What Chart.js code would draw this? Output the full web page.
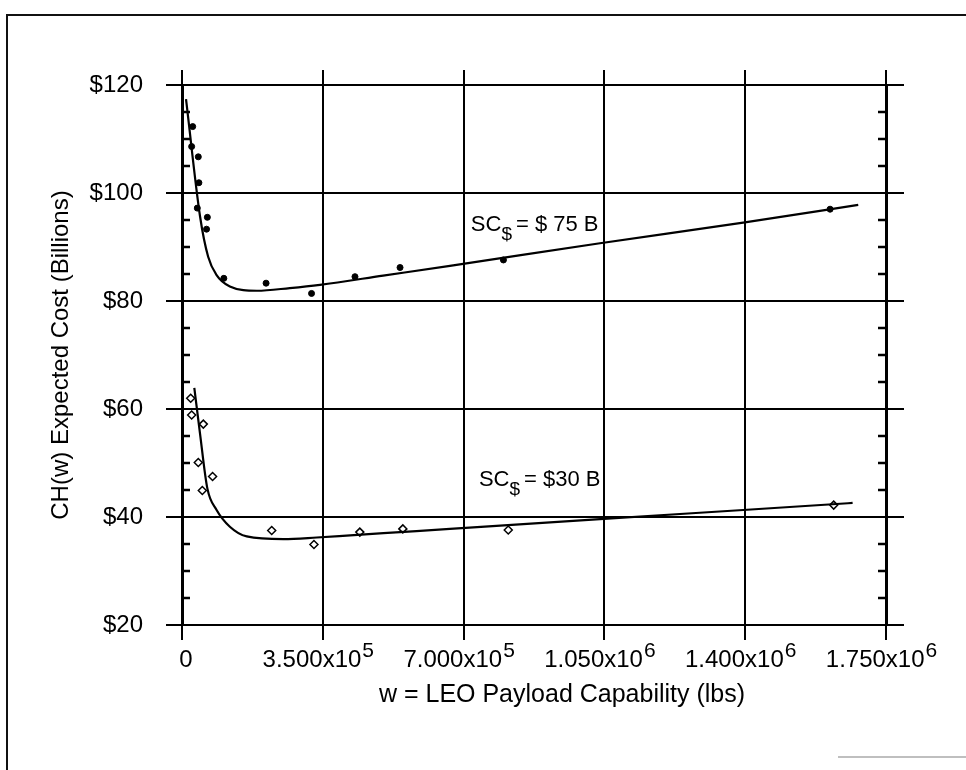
<!DOCTYPE html>
<html>
<head>
<meta charset="utf-8">
<script src="https://cdn.jsdelivr.net/npm/chart.js@4.4.1/dist/chart.umd.min.js"></script>
<style>
  html, body { margin: 0; padding: 0; background: #fff; }
  canvas { display: block; }
</style>
</head>
<body>
<canvas id="chart" width="966" height="770"></canvas>
<script>
// Axis ranges / ticks
const wMin = 0, wMax = 1.75e6, wStep = 3.5e5;
const costMin = 20, costMax = 120, costStep = 20, costMinorStep = 5;

// SC$ = $75 B : smooth curve and computed points
const curve75W = [10e3, 45e3, 65e3, 86e3, 119e3, 186e3, 268e3, 343e3, 500e3, 666e3, 1039e3, 1395e3, 1681e3];
const curve75Cost = [117.4, 95.6, 88.2, 84.8, 82.7, 81.9, 82.4, 83.0, 84.7, 86.5, 90.7, 94.5, 97.8];
const points75W = [24e3, 26.6e3, 38e3, 40.5e3, 42e3, 61e3, 63e3, 104e3, 209e3, 322e3, 430e3, 542e3, 799e3, 1611e3];
const points75Cost = [108.6, 112.3, 97.2, 106.7, 101.9, 93.3, 95.5, 84.2, 83.3, 81.4, 84.5, 86.2, 87.6, 97.0];

// SC$ = $30 B
const curve30W = [30.6e3, 44.7e3, 63e3, 86e3, 119e3, 161e3, 252e3, 335e3, 418e3, 542e3, 666e3, 1039e3, 1395e3, 1667e3];
const curve30Cost = [63.9, 55.5, 45.3, 41.3, 38.2, 36.4, 35.9, 36.2, 36.6, 37.2, 37.8, 39.6, 41.3, 42.6];
const points30W = [21.6e3, 24e3, 40.5e3, 50.5e3, 53e3, 76e3, 223e3, 328e3, 442e3, 549e3, 811e3, 1620e3];
const points30Cost = [62.0, 58.9, 50.1, 44.9, 57.2, 47.5, 37.5, 34.9, 37.2, 37.8, 37.6, 42.2];

// Curve labels "SC$ = ..." (anchored in data units)
const curveLabels = [
  { text: "= $ 75 B", w: 718e3, cost: 93.0 },
  { text: "= $30 B", w: 738e3, cost: 45.7 },
];

const FONT = "'Liberation Sans', Arial, Helvetica, sans-serif";
Chart.defaults.font.family = FONT;
Chart.defaults.color = "#000";

const zip = (xs, ys) => xs.map((v, i) => ({ x: v, y: ys[i] }));

// Frame, minor ticks, x tick labels with exponents, annotations
const overlay = {
  id: "overlay",
  beforeDraw(chart) {
    const ctx = chart.ctx;
    ctx.save();
    ctx.fillStyle = "#fff";
    ctx.fillRect(0, 0, chart.width, chart.height);
    ctx.strokeStyle = "#111";
    ctx.lineWidth = 2;
    ctx.beginPath();
    ctx.moveTo(7, chart.height);
    ctx.lineTo(7, 15);
    ctx.lineTo(chart.width, 15);
    ctx.stroke();
    ctx.strokeStyle = "#aaa";
    ctx.lineWidth = 1.5;
    ctx.beginPath();
    ctx.moveTo(838, 757);
    ctx.lineTo(chart.width, 757);
    ctx.stroke();
    ctx.restore();
  },
  afterDraw(chart) {
    const { ctx, chartArea: a, scales: { x, y } } = chart;
    ctx.save();
    // minor ticks every $5, inside both value axes
    ctx.strokeStyle = "#000";
    ctx.lineWidth = 2.5;
    for (let v = costMin; v < costMax; v += costMinorStep) {
      if (v % costStep === 0) continue;
      const py = y.getPixelForValue(v);
      ctx.beginPath();
      ctx.moveTo(a.left, py);
      ctx.lineTo(a.left + 8, py);
      ctx.moveTo(a.right - 8, py);
      ctx.lineTo(a.right, py);
      ctx.stroke();
    }
    // x tick labels, e.g. 3.500x10^5
    ctx.fillStyle = "#000";
    ctx.textBaseline = "alphabetic";
    ctx.textAlign = "left";
    const base = a.bottom + 42;
    x.ticks.forEach((t) => {
      const px = x.getPixelForValue(t.value);
      ctx.font = "24px " + FONT;
      if (t.value === 0) {
        const w0 = ctx.measureText("0").width;
        ctx.fillText("0", px + 4 - w0 / 2, base);
        return;
      }
      const e = Math.floor(Math.log10(t.value));
      const mant = (t.value / Math.pow(10, e)).toFixed(3) + "x10";
      const wm = ctx.measureText(mant).width;
      ctx.font = "21px " + FONT;
      const we = ctx.measureText(String(e)).width;
      const x0 = px - 5 - (wm + we) / 2;
      ctx.font = "24px " + FONT;
      ctx.fillText(mant, x0, base);
      ctx.font = "21px " + FONT;
      ctx.fillText(String(e), x0 + wm + 1, base - 10);
    });
    // x axis title
    ctx.font = "25px " + FONT;
    ctx.textAlign = "center";
    ctx.fillText("w = LEO Payload Capability (lbs)", 562, 702);
    // curve labels SC$ = ...
    ctx.textAlign = "left";
    curveLabels.forEach((l) => {
      let px = x.getPixelForValue(l.w);
      const py = y.getPixelForValue(l.cost);
      ctx.font = "22px " + FONT;
      ctx.fillText("SC", px, py);
      px += ctx.measureText("SC").width;
      ctx.font = "19px " + FONT;
      ctx.fillText("$", px, py + 9);
      px += ctx.measureText("$").width + 4;
      ctx.font = "22px " + FONT;
      ctx.fillText(l.text, px, py);
    });
    ctx.restore();
  },
};

new Chart(document.getElementById("chart"), {
  type: "scatter",
  plugins: [overlay],
  data: {
    datasets: [
      {
        label: "SC$ = $75 B",
        data: zip(curve75W, curve75Cost),
        showLine: true,
        pointRadius: 0,
        borderColor: "#000",
        borderWidth: 2.2,
        cubicInterpolationMode: "monotone",
      },
      {
        label: "SC$ = $75 B points",
        data: zip(points75W, points75Cost),
        pointStyle: "circle",
        pointRadius: 3,
        backgroundColor: "#000",
        borderColor: "#000",
        borderWidth: 1,
      },
      {
        label: "SC$ = $30 B",
        data: zip(curve30W, curve30Cost),
        showLine: true,
        pointRadius: 0,
        borderColor: "#000",
        borderWidth: 2.2,
        cubicInterpolationMode: "monotone",
      },
      {
        label: "SC$ = $30 B points",
        data: zip(points30W, points30Cost),
        pointStyle: "rectRot",
        pointRadius: 4,
        backgroundColor: "#fff",
        borderColor: "#000",
        borderWidth: 1.5,
      },
    ],
  },
  options: {
    responsive: false,
    animation: false,
    layout: { padding: { left: 43, top: 70, right: 0, bottom: 0 } },
    plugins: {
      legend: { display: false },
      tooltip: { enabled: false },
    },
    scales: {
      x: {
        type: "linear",
        position: "bottom",
        min: wMin,
        max: wMax,
        ticks: { stepSize: wStep, display: false },
        grid: { color: "#000", lineWidth: 2, tickLength: 15 },
        border: { color: "#000", width: 2 },
        afterFit: (s) => { s.height = 145; },
      },
      xTop: {
        type: "linear",
        position: "top",
        min: wMin,
        max: wMax,
        ticks: { stepSize: wStep, display: false },
        grid: { color: "#000", lineWidth: 2, tickLength: 15, drawOnChartArea: false },
        border: { display: false },
        afterFit: (s) => { s.height = 15; },
      },
      y: {
        type: "linear",
        position: "left",
        min: costMin,
        max: costMax,
        ticks: {
          stepSize: costStep,
          padding: 23,
          font: { size: 24 },
          callback: (v) => "$" + v,
        },
        grid: { color: "#000", lineWidth: 2, tickLength: 16 },
        border: { color: "#000", width: 3 },
        title: {
          display: true,
          text: "CH(w) Expected Cost (Billions)",
          font: { size: 24 },
          padding: { top: 4, bottom: 4 },
        },
        afterFit: (s) => { s.width = 139; },
      },
      yRight: {
        type: "linear",
        position: "right",
        min: costMin,
        max: costMax,
        ticks: { stepSize: costStep, display: false },
        grid: { color: "#000", lineWidth: 2, tickLength: 18, drawOnChartArea: false },
        border: { color: "#000", width: 3 },
        afterFit: (s) => { s.width = 80; },
      },
    },
  },
});
</script>
</body>
</html>
